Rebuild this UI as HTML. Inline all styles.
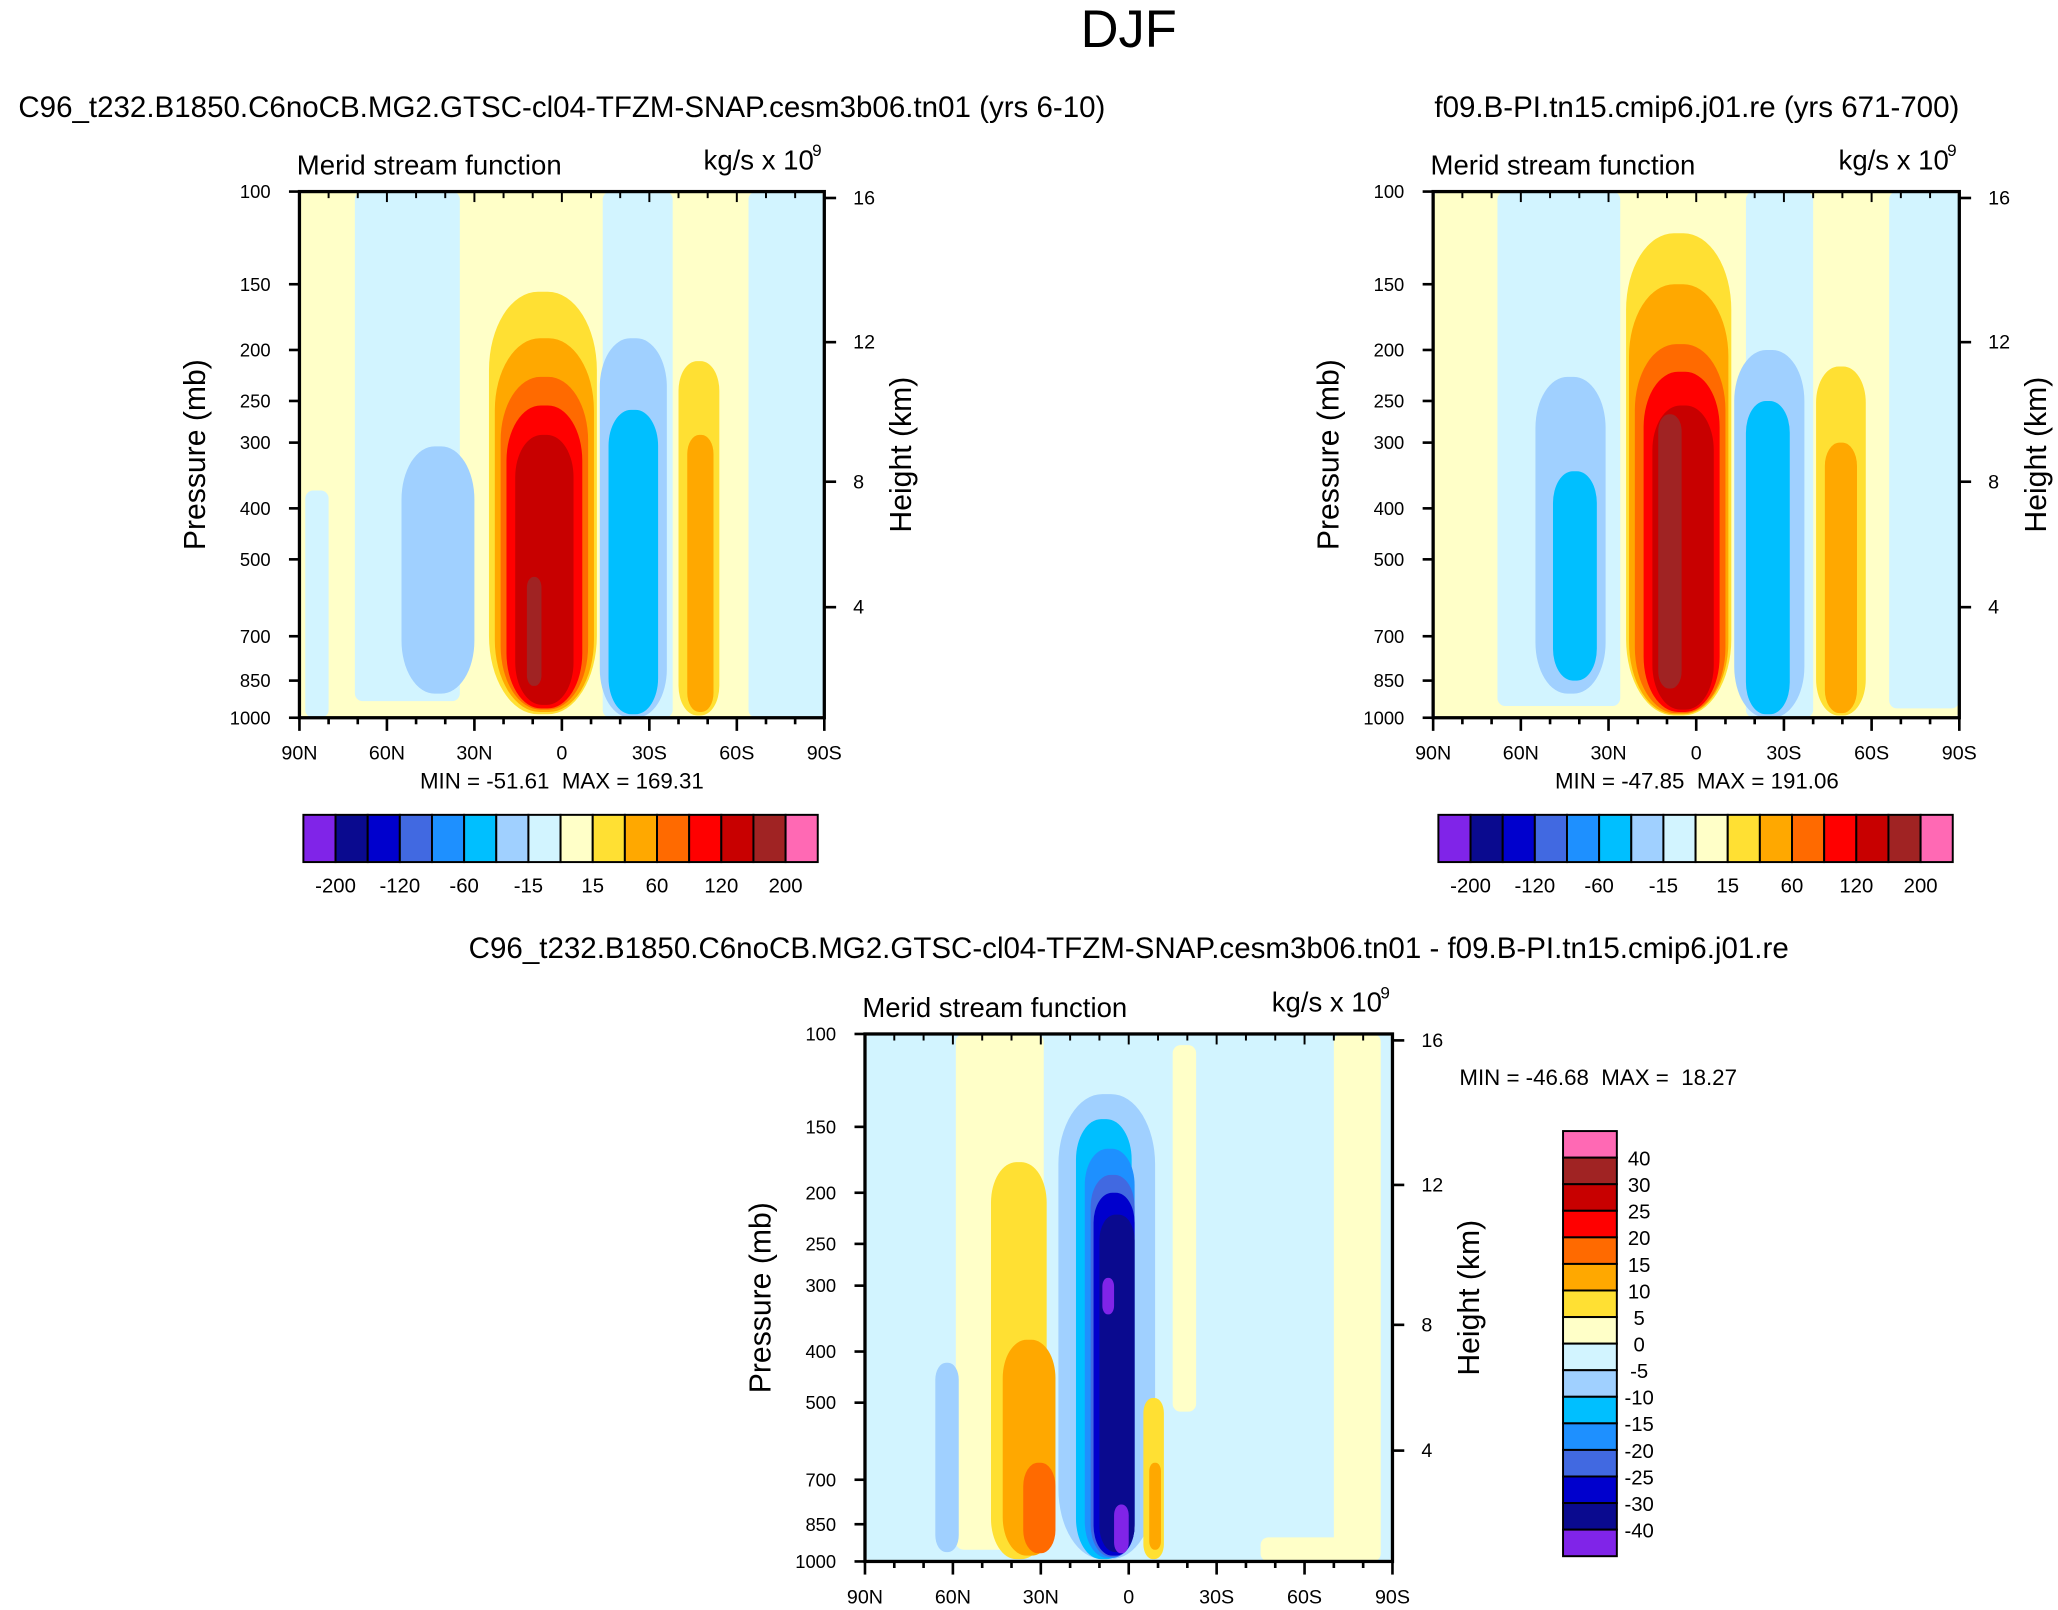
<!DOCTYPE html>
<html><head><meta charset="utf-8"><style>
html,body{margin:0;padding:0;background:#fff;}
svg{display:block;font-family:"Liberation Sans",sans-serif;}
</style></head><body>
<svg id="root" width="2058" height="1610" viewBox="0 0 1568 1227" xmlns="http://www.w3.org/2000/svg">
<text x="860" y="36" font-size="40" text-anchor="middle">DJF</text>
</svg>
<script>
const NS="http://www.w3.org/2000/svg";
const root=document.getElementById('root');
const colors=["#8024e8","#0a0a8f","#0000cd","#4169e1","#1e90ff","#00bfff","#a0d0ff","#d2f4ff","#ffffc8","#ffe033","#ffa800","#ff6a00","#ff0000","#c80000","#a02323","#ff69b4"];
const levelsAbs=["-200","-160","-120","-80","-60","-40","-15","0","15","40","60","80","120","160","200"];
const levelsDiff=["-40","-30","-25","-20","-15","-10","-5","0","5","10","15","20","25","30","40"];
const pTicks=[100,150,200,250,300,400,500,700,850,1000];
const latTicks=[90,60,30,0,-30,-60,-90];
const latLabels=["90N","60N","30N","0","30S","60S","90S"];
const hTicks=[4,8,12,16];
// backgrounds / blobs: [latLeft, latRight, pTop, pBottom, colorIndex]
const bg1=[[90,-90,100,1000,8],[71,35,100,930,7],[88,80,370,1000,7],[-14,-38,100,1000,7],[-64,-90,100,1000,7]];
const blobs1=[[55,30,305,900,6],[25,-12,155,985,9],[23,-11,190,975,10],[21,-9,225,965,11],[19,-7,255,960,12],[16,-4,290,945,13],[12,7,540,870,14],[-13,-36,190,1000,6],[-16,-33,260,985,5],[-40,-54,210,990,9],[-43,-52,290,975,10]];
const bg2=[[90,-90,100,1000,8],[68,26,100,950,7],[-17,-40,100,1000,7],[-66,-90,100,960,7]];
const blobs2=[[55,31,225,900,6],[49,34,340,850,5],[24,-12,120,990,9],[23,-11,150,985,10],[21,-10,195,980,11],[18,-8,220,975,12],[15,-6,255,965,13],[13,5,265,880,14],[-13,-37,200,1000,6],[-17,-32,250,985,5],[-41,-58,215,990,9],[-44,-55,300,980,10]];
const bg3=[[90,-90,100,1000,7],[59,29,100,950,8],[-15,-23,105,520,8],[-70,-86,100,1000,8],[-45,-80,900,1000,8]];
const blobs3=[[47,28,175,990,9],[43,25,380,975,10],[36,25,650,965,11],[24,-9,130,990,6],[66,58,420,960,6],[18,-1,145,990,5],[15,-2,165,985,4],[13,-2,185,980,3],[12,-2,200,975,2],[10,-2,220,960,1],[9,5,290,340,0],[5,0,780,965,0],[-5,-12,490,990,9],[-7,-11,650,950,10]];
function el(tag,attrs,parent,name,inter){const e=document.createElementNS(NS,tag);for(const k in attrs)e.setAttribute(k,attrs[k]);(parent||root).appendChild(e);


return e;}
function txt(s,x,y,size,anchor,name,parent,extra){const t=el('text',Object.assign({x:x,y:y,'font-size':size,'text-anchor':anchor||'middle'},extra||{}),parent,name,false);t.textContent=s;return t;}
function zToP(z){return z<=11?1013.25*Math.pow(1-z/44.33,5.256):226.3*Math.exp(-(z-11)/6.34);}
function panel(id,x0,y0,w,h,bgs,blobs){
  const g=el('g',{},root,'panel-'+id,false);
  const X=lat=>x0+(90-lat)/180*w;
  const Y=p=>y0+Math.log10(p/100)*h;
  const cp=el('clipPath',{id:'clip'+id},g,'clip',false);
  el('rect',{x:x0,y:y0,width:w,height:h},cp,'clip-rect',false);
  const cg=el('g',{'clip-path':'url(#clip'+id+')'},g,'contour-fill',false);
  bgs.forEach(b=>{
    const xl=X(b[0]),xr=X(b[1]),yt=Y(b[2]),yb=Y(b[3]);
    el('rect',{x:xl,y:yt,width:xr-xl,height:yb-yt,rx:6,ry:6,fill:colors[b[4]]},cg,'contour-region',false);
  });
  blobs.forEach(b=>{
    const xl=X(b[0]),xr=X(b[1]),yt=Y(b[2]),yb=Y(b[3]);
    const rx=(xr-xl)/2.2, ry=Math.min((yb-yt)/3,rx*1.6);
    el('rect',{x:xl,y:yt,width:xr-xl,height:yb-yt,rx:rx,ry:ry,fill:colors[b[4]]},cg,'contour-region',false);
  });
  el('rect',{x:x0,y:y0,width:w,height:h,fill:'none',stroke:'#000','stroke-width':2.5},g,'plot-frame',false);
  pTicks.forEach(p=>{const y=Y(p);el('line',{x1:x0-8,x2:x0,y1:y,y2:y,stroke:'#000','stroke-width':2},g,'pressure-tick',false);
    txt(String(p),x0-22,y+5,14,'end','pressure-tick-label',g);});
  for(let lat=90;lat>=-90;lat-=10){const x=X(lat);const major=lat%30===0;
    el('line',{x1:x,x2:x,y1:y0+h,y2:y0+h+(major?10:5),stroke:'#000','stroke-width':2},g,'lat-tick',false);
    el('line',{x1:x,x2:x,y1:y0,y2:y0+(major?8:5),stroke:'#000','stroke-width':1.5},g,'lat-tick-top',false);}
  latTicks.forEach((lat,i)=>txt(latLabels[i],X(lat),y0+h+32,15,'middle','lat-tick-label',g));
  hTicks.forEach(z=>{const y=Y(zToP(z));el('line',{x1:x0+w,x2:x0+w+9,y1:y,y2:y,stroke:'#000','stroke-width':2},g,'height-tick',false);
    txt(String(z),x0+w+22,y+5,15,'start','height-tick-label',g);});
  txt('Merid stream function',x0-2,y0-13,21,'start','plot-left-title',g);
  txt('kg/s x 10',x0+w-8,y0-17,21,'end','units-label',g);
  txt('9',x0+w-2,y0-27,13,'end','units-exponent',g);
  txt('Pressure (mb)',0,0,23,'middle','y-axis-title',g,{transform:`translate(${x0-72},${y0+h/2}) rotate(-90)`});
  txt('Height (km)',0,0,23,'middle','right-axis-title',g,{transform:`translate(${x0+w+66},${y0+h/2}) rotate(-90)`});
}
function hbar(x0,y0,labels,tag){
  const g=el('g',{},root,'colorbar-'+tag,false);const bw=24.5,bh=36;
  colors.forEach((c,i)=>el('rect',{x:x0+i*bw,y:y0,width:bw,height:bh,fill:c,stroke:'#000','stroke-width':1.5},g,'colorbar-box',false));
  labels.forEach((l,i)=>{if(i%2===0)txt(l,x0+(i+1)*bw,y0+bh+23,15.5,'middle','colorbar-label',g);});
}
panel('a',228,146,400,401,bg1,blobs1);
panel('b',1092,146,401,401,bg2,blobs2);
panel('c',659,788,402,402,bg3,blobs3);
txt('C96_t232.B1850.C6noCB.MG2.GTSC-cl04-TFZM-SNAP.cesm3b06.tn01 (yrs 6-10)',428,89,22.5,'middle','left-subtitle');
txt('f09.B-PI.tn15.cmip6.j01.re (yrs 671-700)',1293,89,22.5,'middle','right-subtitle');
txt('C96_t232.B1850.C6noCB.MG2.GTSC-cl04-TFZM-SNAP.cesm3b06.tn01 - f09.B-PI.tn15.cmip6.j01.re',860,730,22.5,'middle','diff-subtitle');
txt('MIN = -51.61\u00a0\u00a0MAX = 169.31',428,601,17,'middle','left-minmax');
txt('MIN = -47.85\u00a0\u00a0MAX = 191.06',1293,601,17,'middle','right-minmax');
txt('MIN = -46.68\u00a0\u00a0MAX =\u00a0\u00a018.27',1112,827,17,'start','diff-minmax');
hbar(231,621,levelsAbs,'left');
hbar(1096,621,levelsAbs,'right');
(function(){const g=el('g',{},root,'colorbar-diff',false);const x0=1191,y0=862,bw=41,bh=20.25;
  for(let i=0;i<16;i++){el('rect',{x:x0,y:y0+i*bh,width:bw,height:bh,fill:colors[15-i],stroke:'#000','stroke-width':1.5},g,'colorbar-box',false);}
  for(let i=0;i<15;i++){txt(levelsDiff[14-i],x0+bw+17,y0+(i+1)*bh+6,15.5,'middle','colorbar-label',g);}
})();
</script>
</body></html>
